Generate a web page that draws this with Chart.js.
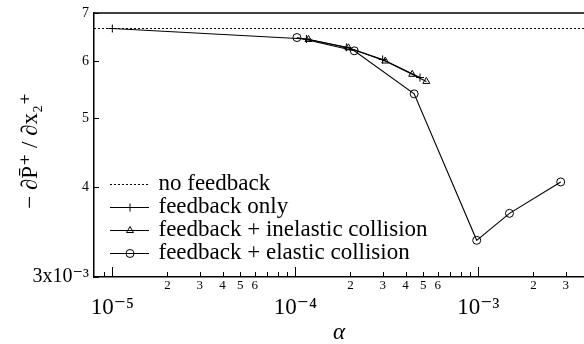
<!DOCTYPE html>
<html><head><meta charset="utf-8">
<script src="https://cdn.jsdelivr.net/npm/chart.js@4/dist/chart.umd.min.js"></script>
<style>html,body{margin:0;padding:0;background:#fff}#wrap{width:584px;height:344px}</style>
</head><body><div id="wrap"><canvas id="c" width="584" height="344"></canvas></div>
<script>
// ---- data ----
const noFeedbackValue = 6.66;
const feedbackOnlyAlpha = [1e-5, 1.15e-4, 1.9e-4, 3.0e-4, 4.8e-4];
const feedbackOnlyValue = [6.66, 6.44, 6.27, 6.03, 5.69];
const inelasticAlpha = [1.18e-4, 1.95e-4, 3.1e-4, 4.35e-4, 5.2e-4];
const inelasticValue = [6.43, 6.26, 6.0, 5.75, 5.62];
const elasticAlpha = [1.02e-4, 2.1e-4, 4.46e-4, 9.8e-4, 1.48e-3, 2.82e-3];
const elasticValue = [6.47, 6.2, 5.4, 3.375, 3.68, 4.07];

const xRange = [7.94e-6, 3.78e-3];
const yRange = [3, 7];
const xTickValues = [9e-6, 1e-5, 2e-5, 3e-5, 4e-5, 5e-5, 6e-5, 7e-5, 8e-5, 9e-5,
  1e-4, 2e-4, 3e-4, 4e-4, 5e-4, 6e-4, 7e-4, 8e-4, 9e-4, 1e-3, 2e-3, 3e-3];
const xTickLabels = ['', '10⁻⁵', '2', '3', '4', '5', '6', '', '', '',
  '10⁻⁴', '2', '3', '4', '5', '6', '', '', '', '10⁻³', '2', '3'];
const yTickValues = [3, 4, 5, 6, 7];
const yTickLabels = ['3x10⁻³', '4', '5', '6', '7'];
const legendLabels = ['no feedback', 'feedback only', 'feedback + inelastic collision', 'feedback + elastic collision'];

const SERIF = "'Liberation Serif', 'DejaVu Serif', serif";
const isMajorX = i => (xTickLabels[i] || '').startsWith('10');

function pts(xs, ys) { return xs.map((v, i) => ({x: v, y: ys[i]})); }

function legendSymbol(style, dashed) {
  const c = document.createElement('canvas');
  c.width = 60; c.height = 14;
  const g = c.getContext('2d');
  g.strokeStyle = '#000'; g.fillStyle = 'rgba(0,0,0,0)'; g.lineWidth = 1;
  if (dashed) g.setLineDash([2, 2]);
  g.beginPath(); g.moveTo(13, 7.5); g.lineTo(52, 7.5); g.stroke();
  g.setLineDash([]);
  if (style) Chart.helpers.drawPoint(g, {pointStyle: style, radius: 4, borderWidth: 1, rotation: 0}, 33, 7.5);
  return c;
}

const framePlugin = {
  id: 'frame',
  afterDraw(chart) {
    const {ctx, chartArea: a, scales: {x, y}} = chart;
    ctx.save();
    ctx.strokeStyle = '#000';
    ctx.lineWidth = 1.5;
    ctx.beginPath(); ctx.moveTo(a.left, a.top); ctx.lineTo(a.right, a.top); ctx.stroke();
    ctx.lineWidth = 1;
    ctx.beginPath();
    x.ticks.forEach((t, i) => {
      const px = Math.round(x.getPixelForValue(t.value)) + 0.5;
      const len = isMajorX(i) ? 10 : 5;
      ctx.moveTo(px, a.bottom); ctx.lineTo(px, a.bottom - len);
    });
    y.ticks.forEach((t) => {
      const py = Math.round(y.getPixelForValue(t.value)) + 0.5;
      ctx.moveTo(a.left, py); ctx.lineTo(a.left + 5, py);
    });
    ctx.stroke();
    ctx.restore();
  }
};

const legendPlacement = {
  id: 'legendPlacement',
  afterLayout(chart) {
    const lg = chart.legend, a = chart.chartArea;
    lg.left = a.left + 13; lg.right = a.right;
    lg.top = a.top; lg.bottom = a.bottom - 12.5;
    lg.width = lg.right - lg.left; lg.height = lg.bottom - lg.top;
  }
};

const symbols = [legendSymbol(null, true), legendSymbol('cross'), legendSymbol('triangle'), legendSymbol('circle')];

new Chart(document.getElementById('c'), {
  type: 'line',
  data: {
    datasets: [
      {label: legendLabels[0], data: [{x: xRange[0], y: noFeedbackValue}, {x: xRange[1], y: noFeedbackValue}],
       borderColor: '#000', borderWidth: 1.2, borderDash: [2, 2], pointRadius: 0, fill: false},
      {label: legendLabels[1], data: pts(feedbackOnlyAlpha, feedbackOnlyValue),
       borderColor: '#000', borderWidth: 1.1, pointStyle: 'cross', pointRadius: 4, pointBorderWidth: 1,
       pointBorderColor: '#000', pointBackgroundColor: 'rgba(0,0,0,0)'},
      {label: legendLabels[2], data: pts(inelasticAlpha, inelasticValue),
       borderColor: '#000', borderWidth: 1.1, pointStyle: 'triangle', pointRadius: 4, pointBorderWidth: 1,
       pointBorderColor: '#000', pointBackgroundColor: 'rgba(0,0,0,0)'},
      {label: legendLabels[3], data: pts(elasticAlpha, elasticValue),
       borderColor: '#000', borderWidth: 1.1, pointStyle: 'circle', pointRadius: 4, pointBorderWidth: 1,
       pointBorderColor: '#000', pointBackgroundColor: 'rgba(0,0,0,0)'}
    ]
  },
  options: {
    responsive: false, animation: false, devicePixelRatio: 1,
    layout: {autoPadding: false, padding: {top: 13, right: 0, left: 0, bottom: 0}},
    plugins: {
      tooltip: {enabled: false},
      legend: {
        position: 'chartArea', align: 'end',
        labels: {
          usePointStyle: true, pointStyleWidth: 40, padding: 0, color: '#000',
          font: {family: SERIF, size: 23},
          generateLabels: (chart) => legendLabels.map((t, i) => ({
            text: t, pointStyle: symbols[i], fillStyle: 'rgba(0,0,0,0)', strokeStyle: '#000',
            lineWidth: 0, hidden: false, datasetIndex: i, fontColor: '#000'
          }))
        }
      }
    },
    scales: {
      x: {
        type: 'logarithmic', min: xRange[0], max: xRange[1],
        afterBuildTicks: s => { s.ticks = xTickValues.map(v => ({value: v})); },
        afterFit: s => { s.height = 67; s.paddingLeft = 0; s.paddingRight = 0; s.paddingTop = 0; s.paddingBottom = 0; },
        grid: {display: false, drawTicks: false},
        border: {display: true, color: '#000', width: 1.5},
        ticks: {
          autoSkip: false, maxRotation: 0, minRotation: 0, padding: 1, color: '#000',
          callback: (v, i) => xTickLabels[i],
          font: (ctx) => isMajorX(ctx.index) ? {family: SERIF, size: 23, lineHeight: 2.6} : {family: SERIF, size: 13, lineHeight: 1.2}
        },
        title: {display: true, text: 'α', color: '#000', padding: {top: 0, bottom: 0},
          font: {family: SERIF, size: 23, style: 'italic', lineHeight: 1.0}}
      },
      y: {
        type: 'logarithmic', min: yRange[0], max: yRange[1],
        afterBuildTicks: s => { s.ticks = yTickValues.map(v => ({value: v})); },
        afterFit: s => { s.width = 94; s.paddingLeft = 0; s.paddingRight = 0; s.paddingTop = 0; s.paddingBottom = 0; },
        grid: {display: false, drawTicks: false},
        border: {display: true, color: '#000', width: 1.5},
        ticks: {
          autoSkip: false, padding: 5, color: '#000',
          callback: (v, i) => yTickLabels[i],
          font: (ctx) => ctx.index === 0 ? {family: SERIF, size: 20} : {family: SERIF, size: 14}
        },
        title: {display: true, text: '− ∂P̄⁺ / ∂x₂⁺  ', color: '#000', padding: {top: 17, bottom: 0},
          font: {family: SERIF, size: 23, lineHeight: 1.2}}
      }
    }
  },
  plugins: [framePlugin, legendPlacement]
});
</script>
</body></html>
